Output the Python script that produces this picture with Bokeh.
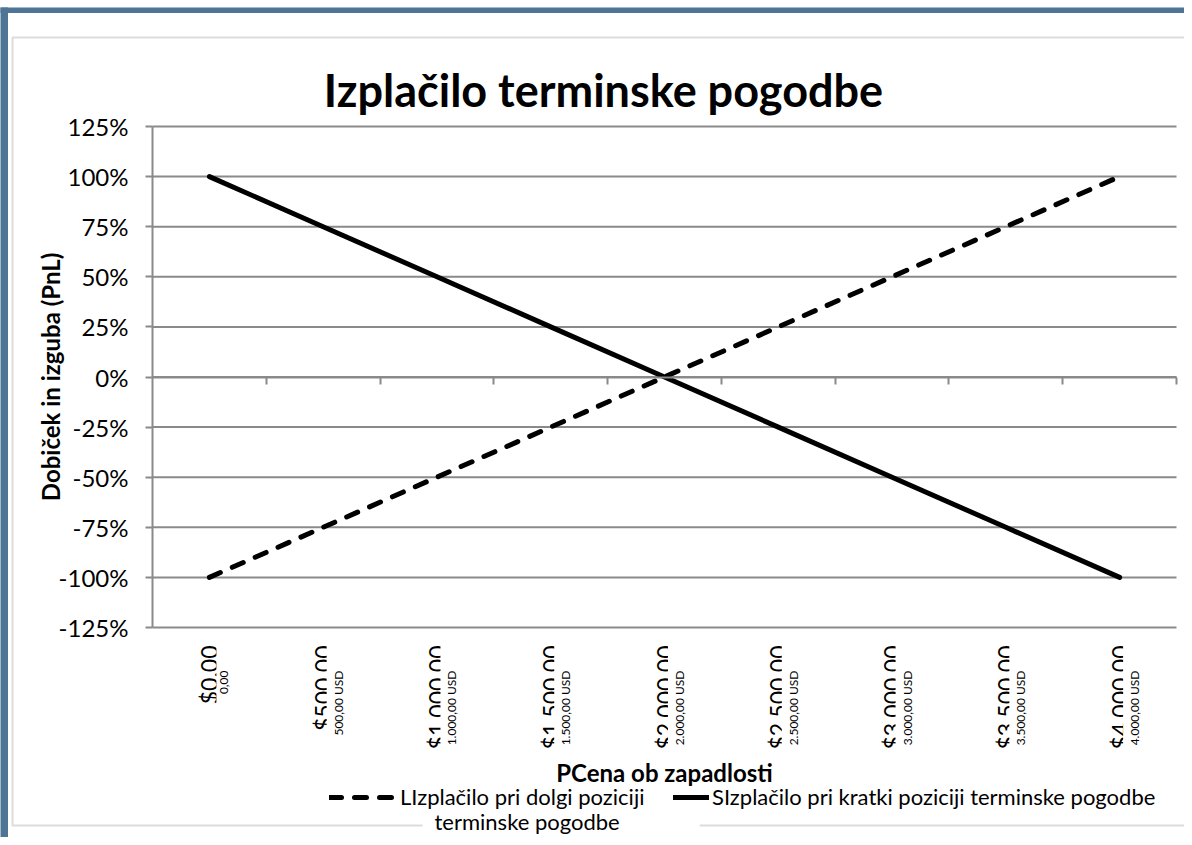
import math
from bokeh.plotting import figure
from bokeh.models import (LinearAxis, FixedTicker, NumeralTickFormatter, Label, BoxAnnotation,
                          Legend, LegendItem, Range1d)
from bokeh.embed import file_html
from bokeh.resources import INLINE

# ---------------- data ----------------
prices = [0, 500, 1000, 1500, 2000, 2500, 3000, 3500, 4000]
long_payoff = [-1.00, -0.75, -0.50, -0.25, 0.00, 0.25, 0.50, 0.75, 1.00]
short_payoff = [1.00, 0.75, 0.50, 0.25, 0.00, -0.25, -0.50, -0.75, -1.00]
y_ticks = [-1.25, -1.00, -0.75, -0.50, -0.25, 0.00, 0.25, 0.50, 0.75, 1.00, 1.25]
x_labels_orig = ["$0.00", "$500.00", "$1,000.00", "$1,500.00", "$2,000.00",
                 "$2,500.00", "$3,000.00", "$3,500.00", "$4,000.00"]
x_labels_sl = ["0,00", "500,00 USD", "1.000,00 USD", "1.500,00 USD", "2.000,00 USD",
               "2.500,00 USD", "3.000,00 USD", "3.500,00 USD", "4.000,00 USD"]
title_text = "Izplačilo terminske pogodbe"
x_title = "PCena ob zapadlosti"
y_title = "Dobiček in izguba (PnL)"
legend_long = "LIzplačilo pri dolgi poziciji"
legend_long_2 = "terminske pogodbe"
legend_short = "SIzplačilo pri kratki poziciji terminske pogodbe"

# ---------------- layout (pixels of the picture) ----------------
FONT = "Lato"
GRAY = "#8a8a8a"
BLUE = "#4e7496"
W, H = 1184, 837
PL, PR, PT, PB = 152, 1176, 126, 627          # plot area
step = prices[1] - prices[0]
XA, XB = prices[0] - step / 2, prices[-1] + step / 2
YA, YB = y_ticks[0], y_ticks[-1]
kx = (XB - XA) / (PR - PL)
ky = (YB - YA) / (PB - PT)
X_START, X_END = XA - PL * kx, XA + (W - PL) * kx
Y_END, Y_START = YB + PT * ky, YB - (H - PT) * ky
boundaries = [v + step / 2 for v in prices]


def dx(px):
    return X_START + px * kx


def dy(py):
    return Y_END - py * ky


p = figure(width=W, height=H, x_range=Range1d(X_START, X_END), y_range=Range1d(Y_START, Y_END),
           output_backend="svg", toolbar_location=None, title=None,
           x_axis_type=None, y_axis_type=None,
           min_border_left=0, min_border_right=0, min_border_top=0, min_border_bottom=0)
p.outline_line_color = None
p.background_fill_color = "white"
p.border_fill_color = "white"

# chart-area decorations
p.add_layout(BoxAnnotation(left=dx(-20), right=dx(W + 20), top=dy(7), bottom=dy(12.5),
                           fill_color=BLUE, fill_alpha=1, line_color=None, level="underlay"))
p.add_layout(BoxAnnotation(left=dx(-20), right=dx(7.5), top=dy(7), bottom=dy(H + 20),
                           fill_color=BLUE, fill_alpha=1, line_color=None, level="underlay"))
p.add_layout(BoxAnnotation(left=dx(12), right=dx(W + 30), top=dy(37), bottom=dy(825),
                           fill_alpha=0, line_color=GRAY, line_width=2, level="underlay"))

# horizontal gridlines, limited to the plot area
p.segment(x0=[XA] * len(y_ticks), x1=[XB] * len(y_ticks), y0=y_ticks, y1=y_ticks,
          line_color=GRAY, line_width=2, level="underlay")

# title
p.add_layout(Label(x=dx(603), y=dy(89), text=title_text, text_align="center",
                   text_baseline="alphabetic", text_font=FONT, text_font_size="45px",
                   text_font_style="bold", text_color="black"))

# y axis (crossing the category axis at the first category boundary)
yaxis = LinearAxis(ticker=FixedTicker(ticks=y_ticks), formatter=NumeralTickFormatter(format="0%"),
                   axis_label=y_title, fixed_location=XA, bounds=(YA, YB))
yaxis.axis_line_color = GRAY
yaxis.axis_line_width = 2
yaxis.major_tick_line_color = GRAY
yaxis.major_tick_line_width = 2
yaxis.major_tick_out = 7
yaxis.major_tick_in = 0
yaxis.minor_tick_line_color = None
yaxis.major_label_text_font = FONT
yaxis.major_label_text_font_size = "24px"
yaxis.major_label_text_color = "black"
yaxis.major_label_standoff = 17
yaxis.axis_label_text_font = FONT
yaxis.axis_label_text_font_size = "24px"
yaxis.axis_label_text_font_style = "bold"
yaxis.axis_label_text_color = "black"
yaxis.axis_label_standoff = -9
p.add_layout(yaxis, "left")

# horizontal axis crossing at 0 with ticks between categories
xa = LinearAxis(ticker=FixedTicker(ticks=boundaries), fixed_location=0, bounds=(XA, XB))
xa.axis_line_color = GRAY
xa.axis_line_width = 2
xa.major_tick_line_color = GRAY
xa.major_tick_line_width = 2
xa.major_tick_out = 7
xa.major_tick_in = 0
xa.minor_tick_line_color = None
xa.major_label_text_font_size = "0px"
xa.major_label_text_color = None
xa.major_label_standoff = 0
p.add_layout(xa, "below")

# category labels at the low end of the value axis
xb = LinearAxis(ticker=FixedTicker(ticks=prices),
                major_label_overrides={v: t for v, t in zip(prices, x_labels_orig)},
                axis_label=x_title, fixed_location=YA, bounds=(XA, XB))
xb.axis_line_color = None
xb.major_tick_line_color = None
xb.minor_tick_line_color = None
xb.major_tick_out = 0
xb.major_tick_in = 0
xb.major_label_orientation = math.pi / 2
xb.major_label_text_font = FONT
xb.major_label_text_font_size = "23px"
xb.major_label_text_color = "black"
xb.major_label_standoff = 18
xb.axis_label_text_font = FONT
xb.axis_label_text_font_size = "24px"
xb.axis_label_text_font_style = "bold"
xb.axis_label_text_color = "black"
xb.axis_label_standoff = 5
p.add_layout(xb, "below")

# translated category labels (overlaying the originals)
MASK_UP = 28
for v, t in zip(prices, x_labels_sl):
    p.add_layout(Label(x=v, y=dy(670 - MASK_UP), text=t, angle=math.pi / 2, x_offset=14,
                       text_align="right", text_baseline="middle",
                       text_font=FONT, text_font_size="12px", text_color="black",
                       background_fill_color="white",
                       padding=dict(left=9, right=MASK_UP, top=4, bottom=2)))

# series
r_long = p.line(prices, long_payoff, line_width=5, line_color="black", line_dash="12 13",
                line_cap="round")
r_short = p.line(prices, short_payoff, line_width=5, line_color="black", line_cap="round")

leg_common = dict(orientation="horizontal", padding=0, margin=0, spacing=0,
                  border_line_color=None, background_fill_alpha=0,
                  label_text_font=FONT, label_text_font_size="22px", label_text_color="black",
                  glyph_height=22, label_height=22)
leg1 = Legend(items=[LegendItem(label=legend_long, renderers=[r_long])],
              location=(329, H - 810), glyph_width=66, label_standoff=5, **leg_common)
leg2 = Legend(items=[LegendItem(label=legend_short, renderers=[r_short])],
              location=(673, H - 810), glyph_width=36, label_standoff=3, **leg_common)
p.add_layout(leg1)
p.add_layout(leg2)
p.add_layout(Label(x=dx(422), y=dy(821), text=legend_long_2, text_align="left",
                   text_baseline="middle", text_font=FONT, text_font_size="22px",
                   text_color="black", background_fill_color="white",
                   padding=dict(left=12, right=80, top=1, bottom=1)))

open("out.html", "w").write(file_html(p, INLINE))
